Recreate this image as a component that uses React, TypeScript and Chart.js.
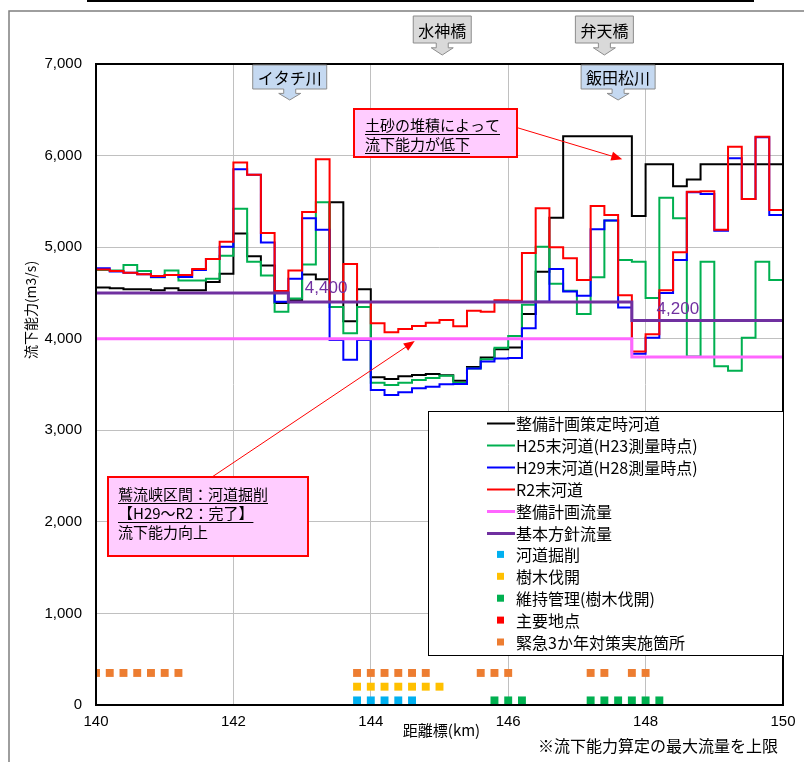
import React, { useEffect, useRef } from "react";
import { Chart, registerables } from "chart.js";

Chart.register(...registerables);

// ---------------- data ----------------
const kmPoints = [
  140.0, 140.2, 140.4, 140.6, 140.8, 141.0, 141.2, 141.4, 141.6, 141.8,
  142.0, 142.2, 142.4, 142.6, 142.8, 143.0, 143.2, 143.4, 143.6, 143.8,
  144.0, 144.2, 144.4, 144.6, 144.8, 145.0, 145.2, 145.4, 145.6, 145.8,
  146.0, 146.2, 146.4, 146.6, 146.8, 147.0, 147.2, 147.4, 147.6, 147.8,
  148.0, 148.2, 148.4, 148.6, 148.8, 149.0, 149.2, 149.4, 149.6, 149.8,
  150.0,
];

const seriesLabels = [
  "整備計画策定時河道",
  "H25末河道(H23測量時点)",
  "H29末河道(H28測量時点)",
  "R2末河道",
  "整備計画流量",
  "基本方針流量",
  "河道掘削",
  "樹木伐開",
  "維持管理(樹木伐開)",
  "主要地点",
  "緊急3か年対策実施箇所",
];

// capacity per 0.2 km section (value held from kmPoints[i] to kmPoints[i+1])
const planChannel = [
  4560, 4550, 4540, 4540, 4530, 4550, 4530, 4530, 4620, 4710,
  5150, 4900, 4800, 4390, 4420, 4700, 4650, 5490, 4190, 4540,
  3580, 3560, 3590, 3605, 3615, 3600, 3540, 3690, 3795, 3885,
  3905, 4270, 4730, 5320, 6210, 6210, 6210, 6210, 6210, 5340,
  5905, 5905, 5665, 5740, 5905, 5905, 5905, 5905, 5905, 5905,
];
const h25Channel = [
  4750, 4745, 4805, 4740, 4670, 4745, 4635, 4635, 4655, 4905,
  5420, 4840, 4690, 4295, 4440, 4810, 5490, 4345, 4060, 4345,
  3520, 3495, 3520, 3550, 3570, 3595, 3520, 3675, 3775, 3900,
  4030, 4370, 5005, 4600, 4525, 4270, 4670, 5290, 4860, 4840,
  4445, 5540, 5315, 3805, 4840, 3700, 3650, 4010, 4840, 4640,
];
const h29Channel = [
  4770, 4735, 4720, 4705, 4675, 4695, 4675, 4750, 4870, 5005,
  5850, 5790, 5050, 4405, 4655, 5315, 5190, 3985, 3770, 3985,
  3440, 3385, 3415, 3458, 3476, 3502, 3505, 3676, 3750, 3785,
  3790, 4113, 4405, 4760, 4515, 4470, 5195, 5290, 4340, 3835,
  4010, 4500, 4860, 5600, 5580, 5180, 5970, 5525, 6200, 5350,
];
const r2Channel = [
  4755, 4740, 4720, 4705, 4685, 4695, 4695, 4760, 4870, 5060,
  5925, 5790, 5155, 4520, 4745, 5385, 5960, 4400, 4815, 4400,
  4170, 4070, 4105, 4140, 4175, 4205, 4135, 4305, 4295, 4420,
  4415, 4935, 5425, 5000, 4880, 4640, 5450, 5350, 4475, 3860,
  4050, 4530, 4945, 5605, 5610, 5190, 6095, 5525, 6205, 5405,
];

const planFlowKm = [140, 147.8, 150];
const planFlowValues = [4000, 3800, 3800];
const basicFlowKm = [140, 142.8, 147.8, 150];
const basicFlowValues = [4500, 4400, 4200, 4200];
const basicFlowLabels = ["4,400", "4,200"];
const basicFlowLabelKm = [143.35, 148.47];
const basicFlowLabelValues = [4545, 4325];

const excavationKm = [143.8, 144.0, 144.2, 144.4, 144.6];
const treeCuttingKm = [143.8, 144.0, 144.2, 144.4, 144.6, 144.8, 145.0];
const maintenanceKm = [145.8, 146.0, 146.2, 147.2, 147.4, 147.6, 147.8, 148.0, 148.2];
const mainPointKm: number[] = [];
const emergencyKm = [
  140.0, 140.2, 140.4, 140.6, 140.8, 141.0, 141.2,
  143.8, 144.0, 144.2, 144.4, 144.6, 144.8,
  145.6, 145.8, 146.0,
  147.2, 147.4, 147.8, 148.0,
];
const excavationLevel = 50;
const treeCuttingLevel = 200;
const maintenanceLevel = 50;
const mainPointLevel = 50;
const emergencyLevel = 350;

const xTicks = [140, 142, 144, 146, 148, 150];
const yTicks = [0, 1000, 2000, 3000, 4000, 5000, 6000, 7000];

const locationNames = ["水神橋", "弁天橋", "イタチ川", "飯田松川"];
const locationKm = [145.04, 147.4, 142.82, 147.6];
const locationRow = [0, 0, 1, 1];

const callout1Lines = ["土砂の堆積によって", "流下能力が低下"];
const callout1ArrowKm = 147.66;
const callout1ArrowValue = 5960;
const callout2Lines = ["鷲流峡区間：河道掘削", "【H29～R2：完了】", "流下能力向上"];
const callout2ArrowKm = 144.64;
const callout2ArrowValue = 3975;

const xAxisTitle = "距離標(km)";
const yAxisTitle = "流下能力(m3/s)";
const footNote = "※流下能力算定の最大流量を上限";

// ---------------- styles ----------------
const JP = "'Noto Sans CJK JP', 'Noto Sans', sans-serif";
const NUM = "'Liberation Sans', Arial, sans-serif";
const colors = {
  plan: "#000000",
  h25: "#00b050",
  h29: "#0000ff",
  r2: "#ff0000",
  planFlow: "#ff66ff",
  basicFlow: "#7030a0",
  excavation: "#00b0f0",
  treeCutting: "#ffc000",
  maintenance: "#00b050",
  mainPoint: "#ff0000",
  emergency: "#ed7d31",
};

function stepData(xs: number[], ys: number[]) {
  return xs.map((x, i) => ({ x, y: ys[Math.min(i, ys.length - 1)] }));
}
function markerData(xs: number[], level: number) {
  return xs.map((x) => ({ x, y: level }));
}

function arrow(ctx: CanvasRenderingContext2D, x1: number, y1: number, x2: number, y2: number, color: string) {
  const ang = Math.atan2(y2 - y1, x2 - x1);
  const len = 11;
  const hw = 4.5;
  ctx.save();
  ctx.strokeStyle = color;
  ctx.fillStyle = color;
  ctx.lineWidth = 1;
  ctx.beginPath();
  ctx.moveTo(x1, y1);
  ctx.lineTo(x2 - Math.cos(ang) * len * 0.8, y2 - Math.sin(ang) * len * 0.8);
  ctx.stroke();
  ctx.beginPath();
  ctx.moveTo(x2, y2);
  ctx.lineTo(x2 - Math.cos(ang) * len + Math.sin(ang) * hw, y2 - Math.sin(ang) * len - Math.cos(ang) * hw);
  ctx.lineTo(x2 - Math.cos(ang) * len - Math.sin(ang) * hw, y2 - Math.sin(ang) * len + Math.cos(ang) * hw);
  ctx.closePath();
  ctx.fill();
  ctx.restore();
}

function drawCallout(
  ctx: CanvasRenderingContext2D,
  box: { x: number; y: number; w: number; h: number },
  lines: string[],
  underlined: boolean[],
  textX: number,
  firstY: number,
  gap: number
) {
  ctx.save();
  ctx.fillStyle = "#ffccff";
  ctx.fillRect(box.x, box.y, box.w, box.h);
  ctx.strokeStyle = "#ff0000";
  ctx.lineWidth = 2;
  ctx.strokeRect(box.x, box.y, box.w, box.h);
  ctx.font = `15px ${JP}`;
  ctx.fillStyle = "#000";
  ctx.textBaseline = "middle";
  ctx.textAlign = "left";
  lines.forEach((t, i) => {
    const y = firstY + i * gap;
    ctx.fillText(t, textX, y);
    if (underlined[i]) {
      const w = ctx.measureText(t).width;
      ctx.strokeStyle = "#000";
      ctx.lineWidth = 1;
      ctx.beginPath();
      ctx.moveTo(textX, Math.round(y + 9) + 0.5);
      ctx.lineTo(textX + w, Math.round(y + 9) + 0.5);
      ctx.stroke();
    }
  });
  ctx.restore();
}

function drawLocation(ctx: CanvasRenderingContext2D, cx: number, row: number, text: string) {
  const top = row === 0 ? 16 : 65;
  const boxH = row === 0 ? 27 : 24;
  const tip = row === 0 ? 55 : 100;
  const fill = row === 0 ? "#d9d9d9" : "#c5d9f1";
  ctx.save();
  ctx.font = `16px ${JP}`;
  const w = ctx.measureText(text).width + 10;
  const l = cx - w / 2;
  const r = cx + w / 2;
  const b = top + boxH;
  const stemH = (tip - b) * 0.4;
  ctx.beginPath();
  ctx.moveTo(l, top);
  ctx.lineTo(r, top);
  ctx.lineTo(r, b);
  ctx.lineTo(cx + 6, b);
  ctx.lineTo(cx + 6, b + stemH);
  ctx.lineTo(cx + 11, b + stemH);
  ctx.lineTo(cx, tip);
  ctx.lineTo(cx - 11, b + stemH);
  ctx.lineTo(cx - 6, b + stemH);
  ctx.lineTo(cx - 6, b);
  ctx.lineTo(l, b);
  ctx.closePath();
  ctx.fillStyle = fill;
  ctx.fill();
  ctx.strokeStyle = "#8c8c8c";
  ctx.lineWidth = 1;
  ctx.stroke();
  ctx.fillStyle = "#000";
  ctx.textAlign = "center";
  ctx.textBaseline = "middle";
  ctx.fillText(text, cx, top + boxH / 2 + 1);
  ctx.restore();
}

const overlayPlugin = {
  id: "overlay",
  afterDatasetsDraw(chart: any) {
    const { ctx, chartArea: a, scales } = chart;
    ctx.save();
    // basic flow value labels
    ctx.font = `17px ${NUM}`;
    ctx.fillStyle = colors.basicFlow;
    ctx.textAlign = "center";
    ctx.textBaseline = "middle";
    basicFlowLabels.forEach((t, i) => {
      ctx.fillText(t, scales.x.getPixelForValue(basicFlowLabelKm[i]), scales.y.getPixelForValue(basicFlowLabelValues[i]));
    });
    // plot border
    ctx.strokeStyle = "#000";
    ctx.lineWidth = 2;
    ctx.strokeRect(a.left, a.top, a.right - a.left, a.bottom - a.top);
    ctx.restore();
  },
  afterDraw(chart: any) {
    const { ctx, chartArea: a, scales } = chart;
    const X = (v: number) => scales.x.getPixelForValue(v);
    const Y = (v: number) => scales.y.getPixelForValue(v);

    // outer frame
    ctx.save();
    ctx.strokeStyle = "#000";
    ctx.lineWidth = 2;
    ctx.beginPath();
    ctx.moveTo(87, 1);
    ctx.lineTo(754, 1);
    ctx.stroke();
    ctx.strokeStyle = "#7f7f7f";
    ctx.lineWidth = 1.5;
    ctx.beginPath();
    ctx.moveTo(804, 11);
    ctx.lineTo(9, 11);
    ctx.lineTo(9, 762);
    ctx.stroke();
    ctx.restore();

    // axis titles
    ctx.save();
    ctx.fillStyle = "#000";
    ctx.font = `14px ${JP}`;
    ctx.textAlign = "center";
    ctx.textBaseline = "middle";
    ctx.translate(31, 310);
    ctx.rotate(-Math.PI / 2);
    ctx.fillText(yAxisTitle, 0, 0);
    ctx.restore();

    ctx.save();
    ctx.fillStyle = "#000";
    ctx.font = `15px ${JP}`;
    ctx.textAlign = "center";
    ctx.textBaseline = "middle";
    ctx.fillText(xAxisTitle, (a.left + a.right) / 2 + 2, 730);
    ctx.font = `16px ${JP}`;
    ctx.textAlign = "right";
    ctx.fillText(footNote, 778, 746);
    ctx.restore();

    // locations
    locationNames.forEach((n, i) => drawLocation(ctx, X(locationKm[i]), locationRow[i], n));

    // callouts
    arrow(ctx, 515, 127, X(callout1ArrowKm), Y(callout1ArrowValue), "#ff0000");
    drawCallout(ctx, { x: 354, y: 109, w: 163, h: 48 }, callout1Lines, [true, true], 365, 125, 19);
    arrow(ctx, 212, 477, X(callout2ArrowKm), Y(callout2ArrowValue), "#ff0000");
    drawCallout(ctx, { x: 108, y: 477, w: 200, h: 79 }, callout2Lines, [true, true, false], 118, 494, 19);

    // legend
    const lg = { left: 428, top: 411, right: a.right, bottom: 655 };
    ctx.save();
    ctx.fillStyle = "#fff";
    ctx.fillRect(lg.left, lg.top, lg.right - lg.left, lg.bottom - lg.top);
    ctx.strokeStyle = "#000";
    ctx.lineWidth = 1;
    ctx.strokeRect(lg.left + 0.5, lg.top + 0.5, lg.right - lg.left, lg.bottom - lg.top);
    ctx.font = `16px ${JP}`;
    ctx.textAlign = "left";
    ctx.textBaseline = "middle";
    chart.data.datasets.forEach((ds: any, i: number) => {
      const y = 423 + i * 21.9;
      if (ds.legendKind === "line") {
        ctx.strokeStyle = ds.borderColor;
        ctx.lineWidth = ds.borderWidth;
        ctx.beginPath();
        ctx.moveTo(487, Math.round(y) + 0.5);
        ctx.lineTo(515, Math.round(y) + 0.5);
        ctx.stroke();
      } else {
        ctx.fillStyle = ds.pointBackgroundColor;
        ctx.fillRect(497, y - 3.5, 7, 7);
      }
      ctx.fillStyle = "#000";
      ctx.fillText(ds.label, 516, y + 1);
    });
    ctx.restore();
  },
};

export default function App() {
  const ref = useRef<HTMLCanvasElement | null>(null);
  useEffect(() => {
    document.body.style.margin = "0";
    const canvas = ref.current;
    if (!canvas) return;
    Chart.defaults.font.family = NUM;
    Chart.defaults.font.size = 15;
    const lineDs = (label: string, xs: number[], ys: number[], color: string, width: number, order: number) => ({
      label,
      data: stepData(xs, ys),
      borderColor: color,
      backgroundColor: color,
      borderWidth: width,
      stepped: "before",
      pointRadius: 0,
      fill: false,
      borderJoinStyle: "miter",
      borderCapStyle: "butt",
      order,
      legendKind: "line",
    });
    const markerDs = (label: string, xs: number[], level: number, color: string, order: number) => ({
      label,
      data: markerData(xs, level),
      showLine: false,
      pointStyle: "rect",
      pointRadius: 5.6,
      pointBorderWidth: 0,
      pointBackgroundColor: color,
      pointBorderColor: color,
      borderColor: color,
      backgroundColor: color,
      order,
      legendKind: "square",
    });
    const chart = new Chart(canvas, {
      type: "line",
      data: {
        datasets: [
          lineDs(seriesLabels[0], kmPoints, planChannel, colors.plan, 2, 20),
          lineDs(seriesLabels[1], kmPoints, h25Channel, colors.h25, 2, 19),
          lineDs(seriesLabels[2], kmPoints, h29Channel, colors.h29, 2, 18),
          lineDs(seriesLabels[3], kmPoints, r2Channel, colors.r2, 2, 17),
          lineDs(seriesLabels[4], planFlowKm, planFlowValues, colors.planFlow, 3, 16),
          lineDs(seriesLabels[5], basicFlowKm, basicFlowValues, colors.basicFlow, 3, 15),
          markerDs(seriesLabels[6], excavationKm, excavationLevel, colors.excavation, 5),
          markerDs(seriesLabels[7], treeCuttingKm, treeCuttingLevel, colors.treeCutting, 4),
          markerDs(seriesLabels[8], maintenanceKm, maintenanceLevel, colors.maintenance, 3),
          markerDs(seriesLabels[9], mainPointKm, mainPointLevel, colors.mainPoint, 2),
          markerDs(seriesLabels[10], emergencyKm, emergencyLevel, colors.emergency, 1),
        ] as any,
      },
      options: {
        responsive: false,
        animation: false,
        events: [],
        layout: { padding: { left: 0, top: 64, right: 21, bottom: 0 } },
        plugins: {
          legend: { display: false },
          tooltip: { enabled: false },
          title: { display: false },
        },
        scales: {
          x: {
            type: "linear",
            min: 140,
            max: 150,
            afterFit: (s: any) => {
              s.height = 57;
            },
            afterBuildTicks: (s: any) => {
              s.ticks = xTicks.map((v) => ({ value: v }));
            },
            ticks: {
              padding: 8,
              color: "#000",
              maxRotation: 0,
              autoSkip: false,
              font: { family: NUM, size: 15 },
              callback: (v: any) => String(v),
            },
            grid: { color: "#c0c0c0", drawTicks: false, lineWidth: 1 },
            border: { display: false },
          },
          y: {
            type: "linear",
            min: 0,
            max: 7000,
            afterFit: (s: any) => {
              s.width = 96;
            },
            afterBuildTicks: (s: any) => {
              s.ticks = yTicks.map((v) => ({ value: v }));
            },
            ticks: {
              padding: 14,
              color: "#000",
              font: { family: NUM, size: 15 },
              callback: (v: any) => Number(v).toLocaleString("en-US"),
            },
            grid: { color: "#c0c0c0", drawTicks: false, lineWidth: 1 },
            border: { display: false },
          },
        },
      } as any,
      plugins: [overlayPlugin],
    });
    return () => chart.destroy();
  }, []);
  return (
    <div style={{ width: 804, height: 762, background: "#fff" }}>
      <canvas ref={ref} width={804} height={762} style={{ display: "block", width: 804, height: 762 }} />
    </div>
  );
}
